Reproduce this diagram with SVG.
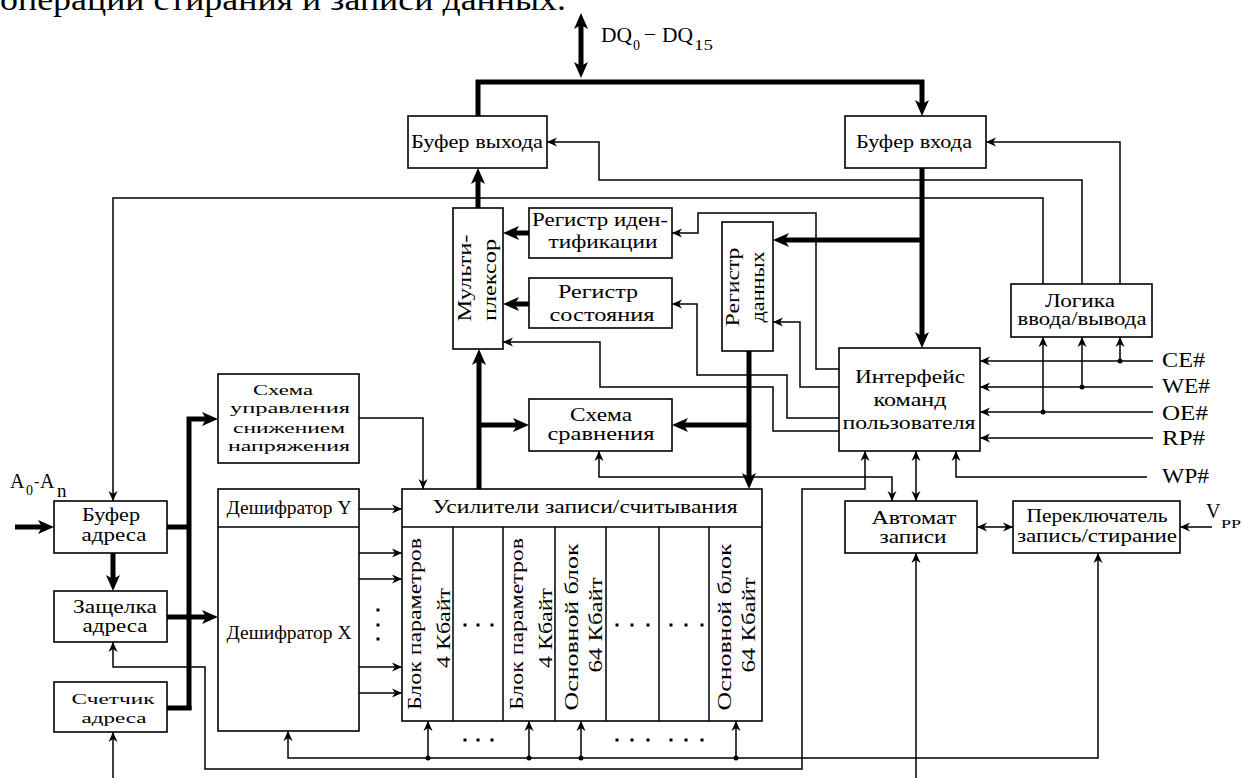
<svg xmlns="http://www.w3.org/2000/svg" width="1242" height="778" viewBox="0 0 1242 778">
<style>
.box{fill:#fff;stroke:#000;stroke-width:1.6}
.w{fill:none;stroke:#000;stroke-width:1.5}
.b{fill:none;stroke:#000;stroke-width:5}
text{font-family:"Liberation Serif","DejaVu Serif",serif;font-size:18px;fill:#000}
.c{text-anchor:middle}
.sig{font-size:22px}
.s{font-size:15.5px}
</style>
<defs>
<marker id="a" viewBox="0 -5 10 10" markerWidth="10" markerHeight="10" refX="10" refY="0" orient="auto-start-reverse" markerUnits="userSpaceOnUse"><path d="M10,0 L0,-4.5 L3,0 L0,4.5 Z" fill="#000"/></marker>
<marker id="ab" viewBox="0 -7 16 14" markerWidth="16" markerHeight="14" refX="8" refY="0" orient="auto-start-reverse" markerUnits="userSpaceOnUse"><path d="M16,0 L0,-7 L4,0 L0,7 Z" fill="#000"/></marker>
</defs>
<rect width="1242" height="778" fill="#fff"/>

<text x="0" y="10" style="font-size:32px" textLength="566" lengthAdjust="spacingAndGlyphs">операции стирания и записи данных.</text>

<g id="connectors">
<path class="b" d="M581,21 V70" marker-start="url(#ab)" marker-end="url(#ab)"/>
<path class="b" d="M478,116 V82 H922 V108" marker-end="url(#ab)"/>
<path class="b" d="M478,208 V176" marker-end="url(#ab)"/>
<path class="b" d="M922,168 V340" marker-end="url(#ab)"/>
<path class="b" d="M922,240 H781" marker-end="url(#ab)"/>
<path class="b" d="M529,233 H511" marker-end="url(#ab)"/>
<path class="b" d="M529,304 H511" marker-end="url(#ab)"/>
<path class="b" d="M479,489 V357" marker-end="url(#ab)"/>
<path class="b" d="M479,425 H521" marker-end="url(#ab)"/>
<path class="b" d="M749,351 V481" marker-end="url(#ab)"/>
<path class="b" d="M749,425 H680" marker-end="url(#ab)"/>
<path class="b" d="M15,527 H46" marker-end="url(#ab)"/>
<path class="b" d="M113,553 V583" marker-end="url(#ab)"/>
<path class="b" d="M167,527 H189"/>
<path class="b" d="M167,708 H191.5"/>
<path class="b" d="M189,710 V419 H210" marker-end="url(#ab)"/>
<path class="b" d="M167,617 H210" marker-end="url(#ab)"/>
<path class="w" d="M1082,284 V180 H599 V142 H547" marker-end="url(#a)"/>
<path class="w" d="M1120,284 V142 H986" marker-end="url(#a)"/>
<path class="w" d="M1043,284 V198 H113 V501" marker-end="url(#a)"/>
<path class="w" d="M839,369 H816 V213 H698 V233 H672" marker-end="url(#a)"/>
<path class="w" d="M839,418 H787 V375 H697 V304 H672" marker-end="url(#a)"/>
<path class="w" d="M839,387 H800 V322 H773" marker-end="url(#a)"/>
<path class="w" d="M839,431 H773 V387 H600 V342 H503" marker-end="url(#a)"/>
<path class="w" d="M359,418 H423 V489" marker-end="url(#a)"/>
<path class="w" d="M599,451 V477 H892 V501" marker-start="url(#a)" marker-end="url(#a)"/>
<path class="w" d="M865,451 V489 H802 V769 H205 V667 H113 V642" marker-start="url(#a)" marker-end="url(#a)"/>
<path class="w" d="M916,451 V501" marker-start="url(#a)" marker-end="url(#a)"/>
<path class="w" d="M1147,477 H956 V451" marker-end="url(#a)"/>
<path class="w" d="M1153,361 H980" marker-end="url(#a)"/>
<path class="w" d="M1153,387 H980" marker-end="url(#a)"/>
<path class="w" d="M1153,412 H980" marker-end="url(#a)"/>
<path class="w" d="M1153,438 H980" marker-end="url(#a)"/>
<path class="w" d="M1120,361 V337" marker-end="url(#a)"/>
<path class="w" d="M1082,387 V337" marker-end="url(#a)"/>
<path class="w" d="M1043,412 V337" marker-end="url(#a)"/>
<path class="w" d="M977,527 H1013" marker-start="url(#a)" marker-end="url(#a)"/>
<path class="w" d="M1212,527 H1180" marker-end="url(#a)"/>
<path class="w" d="M288,731 V758 H1098 V553" marker-start="url(#a)" marker-end="url(#a)"/>
<path class="w" d="M428,758 V721" marker-end="url(#a)"/>
<path class="w" d="M529,758 V721" marker-end="url(#a)"/>
<path class="w" d="M581,758 V721" marker-end="url(#a)"/>
<path class="w" d="M736,758 V721" marker-end="url(#a)"/>
<path class="w" d="M916,778 V553" marker-end="url(#a)"/>
<path class="w" d="M113,778 V732" marker-end="url(#a)"/>
<path class="w" d="M359,509 H402" marker-end="url(#a)"/>
<path class="w" d="M359,553 H402" marker-end="url(#a)"/>
<path class="w" d="M359,579 H402" marker-end="url(#a)"/>
<path class="w" d="M359,667 H402" marker-end="url(#a)"/>
<path class="w" d="M359,693 H402" marker-end="url(#a)"/>
<g fill="#000">
<circle cx="1120" cy="361" r="2.5"/><circle cx="1082" cy="387" r="2.5"/><circle cx="1043" cy="412" r="2.5"/>
<circle cx="428" cy="758" r="2.5"/><circle cx="529" cy="758" r="2.5"/><circle cx="581" cy="758" r="2.5"/><circle cx="736" cy="758" r="2.5"/>
</g>
</g>

<g id="labels">
<text x="601" y="42" style="font-size:22px" textLength="31" lengthAdjust="spacingAndGlyphs">DQ</text>
<text x="633" y="50" style="font-size:14px">0</text>
<text x="645" y="40" style="font-size:20px">–</text>
<text x="662" y="42" style="font-size:22px" textLength="31" lengthAdjust="spacingAndGlyphs">DQ</text>
<text x="694" y="50" style="font-size:14px" textLength="19" lengthAdjust="spacingAndGlyphs">15</text>
<text x="10" y="488" style="font-size:20px">A</text>
<text x="26" y="495" style="font-size:14px">0</text>
<text x="34" y="487" style="font-size:16px">-</text>
<text x="40" y="488" style="font-size:20px">A</text>
<text x="57" y="497" style="font-size:19px">n</text>
<text x="1162" y="367" class="sig" textLength="43" lengthAdjust="spacingAndGlyphs">CE#</text>
<text x="1162" y="393" class="sig" textLength="48" lengthAdjust="spacingAndGlyphs">WE#</text>
<text x="1162" y="420" class="sig" textLength="46" lengthAdjust="spacingAndGlyphs">OE#</text>
<text x="1162" y="445" class="sig" textLength="43" lengthAdjust="spacingAndGlyphs">RP#</text>
<text x="1162" y="483" class="sig" textLength="47" lengthAdjust="spacingAndGlyphs">WP#</text>
<text x="1206" y="518" style="font-size:20px">V</text>
<text x="1221" y="528" style="font-size:13px" textLength="20" lengthAdjust="spacingAndGlyphs">PP</text>
</g>

<g id="buf-out">
<rect class="box" x="408" y="116" width="139" height="52"/>
<text class="c" x="477" y="148" textLength="132" lengthAdjust="spacingAndGlyphs">Буфер выхода</text>
</g>
<g id="buf-in">
<rect class="box" x="845" y="116" width="141" height="52"/>
<text class="c" x="914" y="148" textLength="116" lengthAdjust="spacingAndGlyphs">Буфер входа</text>
</g>
<g id="mux">
<rect class="box" x="453" y="208" width="50" height="141"/>
<text class="c" transform="translate(471,278) rotate(-90)" textLength="87" lengthAdjust="spacingAndGlyphs">Мульти-</text>
<text class="c" transform="translate(496,280) rotate(-90)" textLength="82" lengthAdjust="spacingAndGlyphs">плексор</text>
</g>
<g id="reg-id">
<rect class="box" x="529" y="208" width="143" height="50"/>
<text class="c" x="600" y="226" textLength="136" lengthAdjust="spacingAndGlyphs">Регистр иден-</text>
<text class="c" x="603" y="248" textLength="109" lengthAdjust="spacingAndGlyphs">тификации</text>
</g>
<g id="reg-status">
<rect class="box" x="529" y="278" width="143" height="50"/>
<text class="c" x="598" y="298" textLength="80" lengthAdjust="spacingAndGlyphs">Регистр</text>
<text class="c" x="602" y="321" textLength="105" lengthAdjust="spacingAndGlyphs">состояния</text>
</g>
<g id="reg-data">
<rect class="box" x="722" y="222" width="51" height="129"/>
<text class="c" transform="translate(739,287) rotate(-90)" textLength="79" lengthAdjust="spacingAndGlyphs">Регистр</text>
<text class="c" transform="translate(764,287) rotate(-90)" textLength="71" lengthAdjust="spacingAndGlyphs">данных</text>
</g>
<g id="compare">
<rect class="box" x="529" y="399" width="143" height="52"/>
<text class="c" x="601" y="421" textLength="62" lengthAdjust="spacingAndGlyphs">Схема</text>
<text class="c" x="601" y="440" textLength="107" lengthAdjust="spacingAndGlyphs">сравнения</text>
</g>
<g id="io-logic">
<rect class="box" x="1011" y="284" width="141" height="53"/>
<text class="c" x="1080" y="307" textLength="70" lengthAdjust="spacingAndGlyphs">Логика</text>
<text class="c" x="1082" y="325" textLength="129" lengthAdjust="spacingAndGlyphs">ввода/вывода</text>
</g>
<g id="cmd-if">
<rect class="box" x="839" y="348" width="141" height="103"/>
<text class="c" x="910" y="383" textLength="110" lengthAdjust="spacingAndGlyphs">Интерфейс</text>
<text class="c" x="910" y="406" textLength="73" lengthAdjust="spacingAndGlyphs">команд</text>
<text class="c" x="909" y="429" textLength="133" lengthAdjust="spacingAndGlyphs">пользователя</text>
</g>
<g id="power-ctrl">
<rect class="box" x="218" y="374" width="141" height="89"/>
<text class="c s" x="283" y="395" textLength="60" lengthAdjust="spacingAndGlyphs">Схема</text>
<text class="c s" x="290" y="413" textLength="120" lengthAdjust="spacingAndGlyphs">управления</text>
<text class="c s" x="289" y="433" textLength="112" lengthAdjust="spacingAndGlyphs">снижением</text>
<text class="c s" x="289" y="451" textLength="122" lengthAdjust="spacingAndGlyphs">напряжения</text>
</g>
<g id="addr-buf">
<rect class="box" x="54" y="501" width="113" height="52"/>
<text class="c" x="111" y="521" textLength="58" lengthAdjust="spacingAndGlyphs">Буфер</text>
<text class="c" x="114" y="541" textLength="65" lengthAdjust="spacingAndGlyphs">адреса</text>
</g>
<g id="addr-latch">
<rect class="box" x="54" y="591" width="113" height="51"/>
<text class="c" x="115" y="613" textLength="84" lengthAdjust="spacingAndGlyphs">Защелка</text>
<text class="c" x="115" y="632" textLength="65" lengthAdjust="spacingAndGlyphs">адреса</text>
</g>
<g id="addr-counter">
<rect class="box" x="54" y="682" width="113" height="50"/>
<text class="c s" x="113" y="704" textLength="83" lengthAdjust="spacingAndGlyphs">Счетчик</text>
<text class="c s" x="114" y="723" textLength="65" lengthAdjust="spacingAndGlyphs">адреса</text>
</g>
<g id="decoder">
<rect class="box" x="218" y="489" width="141" height="242"/>
<line class="w" x1="218" y1="527" x2="359" y2="527"/>
<text class="c" x="289" y="514" textLength="125" lengthAdjust="spacingAndGlyphs">Дешифратор Y</text>
<text class="c" x="289" y="639" textLength="125" lengthAdjust="spacingAndGlyphs">Дешифратор X</text>
<g fill="#000"><rect x="376.5" y="608.5" width="3" height="3"/><rect x="376.5" y="623.5" width="3" height="3"/><rect x="376.5" y="637.5" width="3" height="3"/></g>
</g>
<g id="array">
<rect class="box" x="402" y="489" width="360" height="232"/>
<path class="w" d="M402,527 H762 M453,527 V721 M503,527 V721 M555,527 V721 M606,527 V721 M659,527 V721 M709,527 V721"/>
<text class="c" x="585" y="513" textLength="305" lengthAdjust="spacingAndGlyphs">Усилители записи/считывания</text>
<text class="c" transform="translate(421,624) rotate(-90)" textLength="172" lengthAdjust="spacingAndGlyphs">Блок параметров</text>
<text class="c" transform="translate(450,628) rotate(-90)" textLength="80" lengthAdjust="spacingAndGlyphs">4 Кбайт</text>
<text class="c" transform="translate(523,624) rotate(-90)" textLength="172" lengthAdjust="spacingAndGlyphs">Блок параметров</text>
<text class="c" transform="translate(552,628) rotate(-90)" textLength="80" lengthAdjust="spacingAndGlyphs">4 Кбайт</text>
<text class="c" transform="translate(578,627) rotate(-90)" textLength="167" lengthAdjust="spacingAndGlyphs">Основной блок</text>
<text class="c" transform="translate(602,625) rotate(-90)" textLength="95" lengthAdjust="spacingAndGlyphs">64 Кбайт</text>
<text class="c" transform="translate(731,627) rotate(-90)" textLength="167" lengthAdjust="spacingAndGlyphs">Основной блок</text>
<text class="c" transform="translate(755,625) rotate(-90)" textLength="95" lengthAdjust="spacingAndGlyphs">64 Кбайт</text>
<g fill="#000">
<rect x="463.5" y="623.5" width="3" height="3"/><rect x="476.5" y="623.5" width="3" height="3"/><rect x="490.5" y="623.5" width="3" height="3"/>
<rect x="615.5" y="623.5" width="3" height="3"/><rect x="630.5" y="623.5" width="3" height="3"/><rect x="646.5" y="623.5" width="3" height="3"/>
<rect x="669.5" y="623.5" width="3" height="3"/><rect x="684.5" y="623.5" width="3" height="3"/><rect x="700.5" y="623.5" width="3" height="3"/>
<rect x="463.5" y="738.5" width="3" height="3"/><rect x="476.5" y="738.5" width="3" height="3"/><rect x="490.5" y="738.5" width="3" height="3"/>
<rect x="615.5" y="738.5" width="3" height="3"/><rect x="630.5" y="738.5" width="3" height="3"/><rect x="646.5" y="738.5" width="3" height="3"/>
<rect x="669.5" y="738.5" width="3" height="3"/><rect x="684.5" y="738.5" width="3" height="3"/><rect x="700.5" y="738.5" width="3" height="3"/>
</g>
</g>
<g id="write-fsm">
<rect class="box" x="845" y="501" width="132" height="52"/>
<text class="c" x="914" y="524" textLength="85" lengthAdjust="spacingAndGlyphs">Автомат</text>
<text class="c" x="913" y="543" textLength="67" lengthAdjust="spacingAndGlyphs">записи</text>
</g>
<g id="switch">
<rect class="box" x="1013" y="501" width="167" height="52"/>
<text class="c" x="1097" y="522" textLength="141" lengthAdjust="spacingAndGlyphs">Переключатель</text>
<text class="c" x="1097" y="542" textLength="160" lengthAdjust="spacingAndGlyphs">запись/стирание</text>
</g>
</svg>
